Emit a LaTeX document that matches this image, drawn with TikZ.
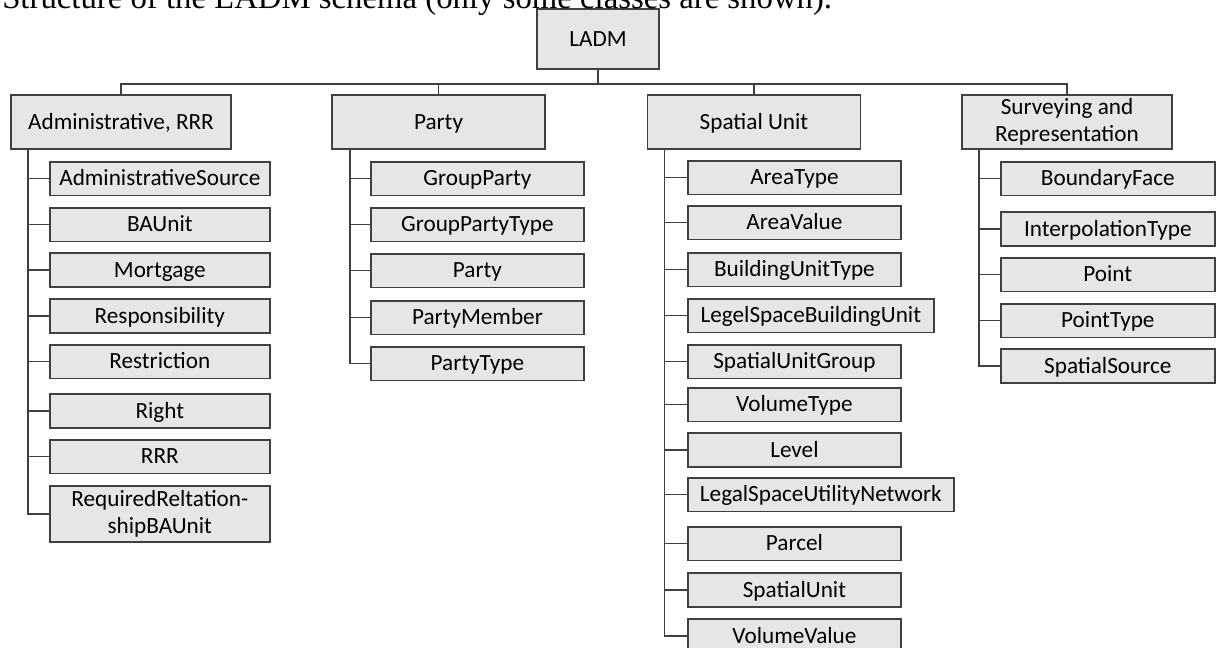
\documentclass[tikz,border=0pt]{standalone}
\usepackage{fontspec}
\setmainfont{Carlito}
\newfontfamily\captionfont{Liberation Serif}
\definecolor{boxfill}{HTML}{E6E6E6}
\definecolor{boxline}{HTML}{404040}

\begin{document}
\begin{tikzpicture}[x=0.025cm, y=-0.025cm,
    classbox/.style={draw=boxline, fill=boxfill, line width=0.04cm, align=center, inner xsep=4pt, inner ysep=0pt, font=\fontsize{16.5}{19.5}\selectfont},
    rootbox/.style={classbox, text height=10.6pt, text depth=0pt, minimum width=3.05cm, minimum height=1.5cm},
    pkgbox/.style={classbox, minimum width=5.33cm, minimum height=1.35cm},
    leafbox/.style={classbox, anchor=west, text height=10.6pt, text depth=0pt, minimum width=5.33cm, minimum height=0.84cm},
    tree/.style={draw=boxline, line width=0.045cm}]
    \useasboundingbox (0,0) rectangle (1216,647);

    \node[rootbox] at (598,39) (L) {LADM};

    \node[pkgbox, minimum width=5.5cm, text height=10.6pt, text depth=0pt] at (121,122) (A) {Administrative, RRR};
    \node[pkgbox, text height=10.6pt, text depth=0pt] at (438.5,122) (P) {Party};
    \node[pkgbox, text height=10.6pt, text depth=0pt] at (754,122) (S) {Spatial Unit};
    \node[pkgbox, minimum width=5.25cm] at (1067,122) (R) {Surveying and\\Representation};

    \coordinate (bus) at (598,84);
    \draw[tree] (L.south) -- (bus);
    \draw[tree] (A.north) |- (bus) -| (R.north);
    \draw[tree] (P.north |- bus) -- (P.north);
    \draw[tree] (S.north |- bus) -- (S.north);

    % Administrative, RRR
    \node[leafbox, minimum width=5.5cm] at (49,178.5) (A1) {AdministrativeSource};
    \node[leafbox, minimum width=5.5cm] at (49,224.5) (A2) {BAUnit};
    \node[leafbox, minimum width=5.5cm] at (49,270)   (A3) {Mortgage};
    \node[leafbox, minimum width=5.5cm] at (49,316)   (A4) {Responsibility};
    \node[leafbox, minimum width=5.5cm] at (49,361.5) (A5) {Restriction};
    \node[leafbox, minimum width=5.5cm] at (49,411)   (A6) {Right};
    \node[leafbox, minimum width=5.5cm] at (49,456.5) (A7) {RRR};
    \node[classbox, anchor=west, minimum width=5.5cm, minimum height=1.4cm] at (49,514) (A8) {RequiredReltation-\\shipBAUnit};
    \draw[tree] ([xshift=0.45cm]A.south west) |- (A1.west);
    \draw[tree] ([xshift=0.45cm]A.south west) |- (A2.west);
    \draw[tree] ([xshift=0.45cm]A.south west) |- (A3.west);
    \draw[tree] ([xshift=0.45cm]A.south west) |- (A4.west);
    \draw[tree] ([xshift=0.45cm]A.south west) |- (A5.west);
    \draw[tree] ([xshift=0.45cm]A.south west) |- (A6.west);
    \draw[tree] ([xshift=0.45cm]A.south west) |- (A7.west);
    \draw[tree] ([xshift=0.45cm]A.south west) |- (A8.west);

    % Party
    \node[leafbox] at (370,178.5) (P1) {GroupParty};
    \node[leafbox] at (370,224.5) (P2) {GroupPartyType};
    \node[leafbox] at (370,270.5) (P3) {Party};
    \node[leafbox] at (370,317.5) (P4) {PartyMember};
    \node[leafbox] at (370,363.5) (P5) {PartyType};
    \draw[tree] ([xshift=0.48cm]P.south west) |- (P1.west);
    \draw[tree] ([xshift=0.48cm]P.south west) |- (P2.west);
    \draw[tree] ([xshift=0.48cm]P.south west) |- (P3.west);
    \draw[tree] ([xshift=0.48cm]P.south west) |- (P4.west);
    \draw[tree] ([xshift=0.48cm]P.south west) |- (P5.west);

    % Spatial Unit
    \node[leafbox] at (687,177.5) (S1) {AreaType};
    \node[leafbox] at (687,222.5) (S2) {AreaValue};
    \node[leafbox] at (687,269.5) (S3) {BuildingUnitType};
    \node[leafbox, minimum width=6.15cm] at (687,315.5) (S4) {LegelSpaceBuildingUnit};
    \node[leafbox] at (687,361.5) (S5) {SpatialUnitGroup};
    \node[leafbox] at (687,404.5) (S6) {VolumeType};
    \node[leafbox] at (687,450)   (S7) {Level};
    \node[leafbox, minimum width=6.65cm] at (687,494.5) (S8) {LegalSpaceUtilityNetwork};
    \node[leafbox] at (687,543.5) (S9) {Parcel};
    \node[leafbox] at (687,590)   (S10) {SpatialUnit};
    \node[leafbox] at (687,636)   (S11) {VolumeValue};
    \draw[tree] ([xshift=0.45cm]S.south west) |- (S1.west);
    \draw[tree] ([xshift=0.45cm]S.south west) |- (S2.west);
    \draw[tree] ([xshift=0.45cm]S.south west) |- (S3.west);
    \draw[tree] ([xshift=0.45cm]S.south west) |- (S4.west);
    \draw[tree] ([xshift=0.45cm]S.south west) |- (S5.west);
    \draw[tree] ([xshift=0.45cm]S.south west) |- (S6.west);
    \draw[tree] ([xshift=0.45cm]S.south west) |- (S7.west);
    \draw[tree] ([xshift=0.45cm]S.south west) |- (S8.west);
    \draw[tree] ([xshift=0.45cm]S.south west) |- (S9.west);
    \draw[tree] ([xshift=0.45cm]S.south west) |- (S10.west);
    \draw[tree] ([xshift=0.45cm]S.south west) |- (S11.west);

    % Surveying and Representation
    \node[leafbox, minimum width=5.35cm] at (1000,178.5) (R1) {BoundaryFace};
    \node[leafbox, minimum width=5.35cm] at (1000,229)   (R2) {InterpolationType};
    \node[leafbox, minimum width=5.35cm] at (1000,274.5) (R3) {Point};
    \node[leafbox, minimum width=5.35cm] at (1000,320.5) (R4) {PointType};
    \node[leafbox, minimum width=5.35cm] at (1000,366)   (R5) {SpatialSource};
    \draw[tree] ([xshift=0.45cm]R.south west) |- (R1.west);
    \draw[tree] ([xshift=0.45cm]R.south west) |- (R2.west);
    \draw[tree] ([xshift=0.45cm]R.south west) |- (R3.west);
    \draw[tree] ([xshift=0.45cm]R.south west) |- (R4.west);
    \draw[tree] ([xshift=0.45cm]R.south west) |- (R5.west);

    % caption line, cut by the top edge as in the scan
    \node[font=\captionfont\fontsize{23.3}{26}\selectfont, anchor=base west, inner sep=0pt] at (2,8) (T) {Structure of the LADM schema (only some classes are shown).};
\end{tikzpicture}
\end{document}
